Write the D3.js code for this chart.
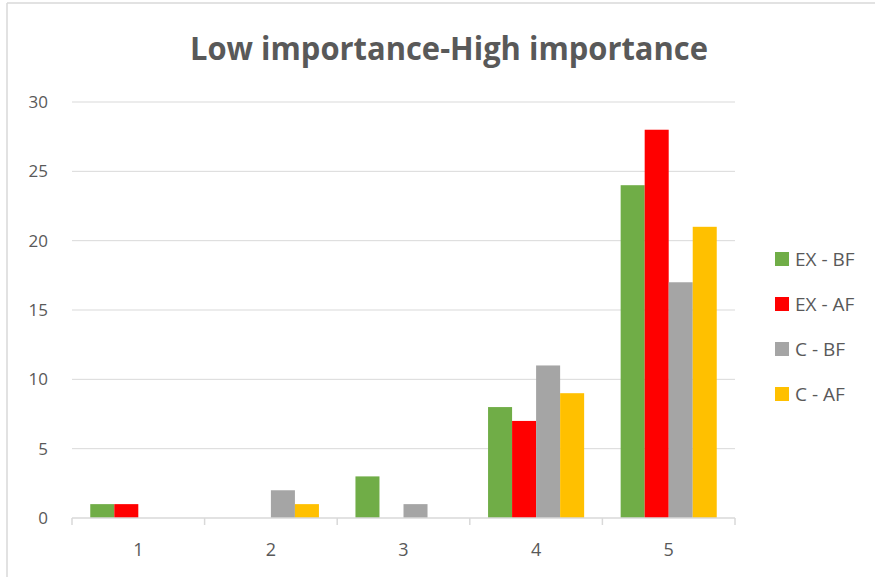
<!DOCTYPE html>
<html>
<head>
<meta charset="utf-8">
<script src="https://cdn.jsdelivr.net/npm/d3@7"></script>
<style>
  html, body { margin: 0; padding: 0; background: #fff; }
  svg { display: block; }
</style>
</head>
<body>
<script>
// Survey ratings on a 1–5 importance scale, four respondent groups
const categories = ["1", "2", "3", "4", "5"];
const seriesNames = ["EX - BF", "EX - AF", "C - BF", "C - AF"];
const exBF = [1, 0, 3, 8, 24];
const exAF = [1, 0, 0, 7, 28];
const cBF  = [0, 2, 1, 11, 17];
const cAF  = [0, 1, 0, 9, 21];
const yTicks = [0, 5, 10, 15, 20, 25, 30];
const colors = ["#70AD47", "#FF0000", "#A5A5A5", "#FFC000"];
const titleText = "Low importance-High importance";

const seriesValues = [exBF, exAF, cBF, cAF];

const W = 875, H = 577;
const margin = { left: 72, right: 140, top: 102, bottom: 59 };
const font = "'Open Sans', 'Liberation Sans', sans-serif";
const textColor = "#595959";

const svg = d3.select("body").append("svg")
  .attr("width", W).attr("height", H);

// chart frame (left and top edges visible)
svg.append("line").attr("x1", 7).attr("x2", 7).attr("y1", 3).attr("y2", H)
  .attr("stroke", "#d9d9d9").attr("stroke-width", 1.5);
svg.append("line").attr("x1", 7).attr("x2", W).attr("y1", 3).attr("y2", 3)
  .attr("stroke", "#d9d9d9").attr("stroke-width", 1.5);

const x0 = d3.scaleBand().domain(categories)
  .range([margin.left, W - margin.right]).paddingInner(0).paddingOuter(0);
const x1 = d3.scaleBand().domain(seriesNames)
  .range([0, x0.bandwidth()]).paddingOuter(0.76).paddingInner(0);
const y = d3.scaleLinear().domain([0, 30]).range([H - margin.bottom, margin.top]);

// horizontal gridlines
svg.append("g").selectAll("line").data(yTicks.filter(t => t > 0)).join("line")
  .attr("x1", margin.left).attr("x2", W - margin.right)
  .attr("y1", d => y(d)).attr("y2", d => y(d))
  .attr("stroke", "#d9d9d9").attr("stroke-width", 1);

// y-axis labels
const yAxis = d3.axisLeft(y).tickValues(yTicks).tickSize(0).tickPadding(24);
const gy = svg.append("g").attr("transform", `translate(${margin.left},0)`).call(yAxis);
gy.select(".domain").remove();
gy.selectAll("text").attr("font-family", font).attr("font-size", 17)
  .attr("fill", textColor);

// bars
const groups = svg.append("g").selectAll("g").data(categories).join("g")
  .attr("transform", d => `translate(${x0(d)},0)`);
groups.selectAll("rect")
  .data((c, i) => seriesNames.map((s, k) => ({ s, k, v: seriesValues[k][i] })))
  .join("rect")
  .attr("x", d => x1(d.s))
  .attr("width", x1.bandwidth())
  .attr("y", d => y(d.v))
  .attr("height", d => y(0) - y(d.v))
  .attr("fill", d => colors[d.k]);

// x axis with boundary ticks
const gx = svg.append("g").attr("transform", `translate(0,${y(0)})`);
gx.append("line").attr("x1", margin.left).attr("x2", W - margin.right)
  .attr("y1", 0).attr("y2", 0).attr("stroke", "#d9d9d9").attr("stroke-width", 1.5);
const bounds = categories.map(c => x0(c)).concat([x0(categories[categories.length - 1]) + x0.bandwidth()]);
gx.selectAll("line.tick").data(bounds).join("line").attr("class", "tick")
  .attr("x1", d => d).attr("x2", d => d).attr("y1", 0).attr("y2", 7)
  .attr("stroke", "#d9d9d9").attr("stroke-width", 1.5);
gx.selectAll("text").data(categories).join("text")
  .attr("x", d => x0(d) + x0.bandwidth() / 2).attr("y", 38)
  .attr("text-anchor", "middle").attr("font-family", font).attr("font-size", 18)
  .attr("fill", textColor).text(d => d);

// title
svg.append("text").attr("x", 449).attr("y", 60).attr("text-anchor", "middle")
  .attr("font-family", font).attr("font-weight", "bold").attr("font-size", 32)
  .attr("textLength", 518).attr("lengthAdjust", "spacingAndGlyphs")
  .attr("fill", textColor).text(titleText);

// legend
const legend = svg.append("g").selectAll("g").data(seriesNames).join("g")
  .attr("transform", (d, i) => `translate(775,${259 + i * 45})`);
legend.append("rect").attr("x", 0).attr("y", -7).attr("width", 14).attr("height", 14)
  .attr("fill", (d, i) => colors[i]);
legend.append("text").attr("x", 20).attr("y", 7)
  .attr("font-family", font).attr("font-size", 19).attr("fill", textColor)
  .text(d => d);
</script>
</body>
</html>
